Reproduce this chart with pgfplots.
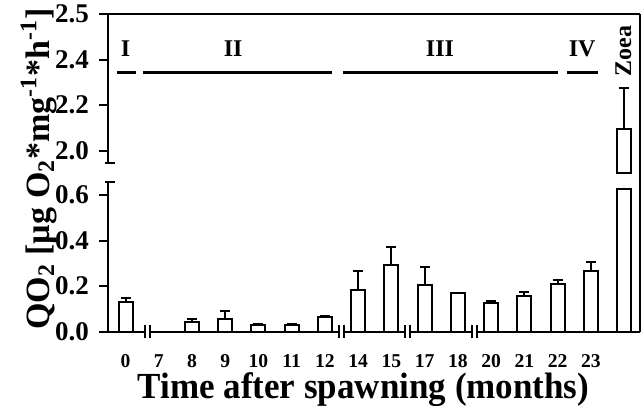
\documentclass[border=0pt]{standalone}
\usepackage{fontspec}
\setmainfont{Liberation Serif}
\usepackage{pgfplots}
\pgfplotsset{compat=1.18}

\pgfplotsset{
  common/.style={
    scale only axis, width=266pt, xmin=-0.527, xmax=15.48,
    clip mode=individual,
    tick align=outside, major tick length=4.5pt,
    every tick/.style={line width=1pt, black},
    axis line style={line width=1pt},
    ybar, bar width=7pt, bar shift=0pt,
    /pgf/number format/assume math mode=true,
    yticklabel style={font=\fontsize{13.5}{14}\selectfont\bfseries, xshift=-1.5pt},
  },
  qbar/.style={draw=black, fill=white, line width=1pt, bar shift=0pt,
    error bars/.cd, y dir=plus, y explicit,
    error bar style={line width=1pt, black},
    error mark options={rotate=90, mark size=2.5pt, line width=1pt, black}},
}

\begin{document}
\begin{tikzpicture}
% lower panel
\begin{axis}[common, at={(54pt,37.15pt)}, anchor=south west,
  height=74.96pt, ymin=0, ymax=0.659,
  axis y line*=left, axis x line*=bottom, x axis line style={draw=none},
  xtick={0,...,14}, xticklabels={0,7,8,9,10,11,12,14,15,17,18,20,21,22,23},
  x tick style={draw=none},
  xticklabel style={font=\fontsize{9.8}{10}\selectfont\bfseries, anchor=base, inner sep=0pt, yshift=-13.3pt},
  ytick={0,0.2,0.4,0.6},
  yticklabel style={/pgf/number format/.cd, fixed, fixed zerofill, precision=1}]
\addplot[qbar] coordinates {
  (0,0.132) +- (0,0.017)
  (2,0.044) +- (0,0.012)
  (3,0.056) +- (0,0.035)
  (4,0.028) +- (0,0.005)
  (5,0.030) +- (0,0.005)
  (6,0.066) +- (0,0.005)
  (7,0.185) +- (0,0.080)
  (8,0.293) +- (0,0.081)
  (9,0.207) +- (0,0.076)
  (10,0.168) +- (0,0.004)
  (11,0.124) +- (0,0.010)
  (12,0.155) +- (0,0.018)
  (13,0.211) +- (0,0.016)
  (14,0.265) +- (0,0.043)
};
\addplot[draw=black, fill=white, line width=1pt, bar shift=0pt] coordinates {(15,0.626)};
% broken x axis
\draw[line width=1pt] (axis cs:-0.527,0) -- (axis cs:0.575,0)
  (axis cs:0.725,0) -- (axis cs:6.425,0)
  (axis cs:6.575,0) -- (axis cs:8.395,0)
  (axis cs:8.545,0) -- (axis cs:10.425,0)
  (axis cs:10.575,0) -- (axis cs:15.48,0);
\draw[line width=1pt]
  (axis cs:0.575,-0.029) -- (axis cs:0.575,0.029)
  (axis cs:0.725,-0.029) -- (axis cs:0.725,0.029)
  (axis cs:6.425,-0.029) -- (axis cs:6.425,0.029)
  (axis cs:6.575,-0.029) -- (axis cs:6.575,0.029)
  (axis cs:8.395,-0.029) -- (axis cs:8.395,0.029)
  (axis cs:8.545,-0.029) -- (axis cs:8.545,0.029)
  (axis cs:10.425,-0.029) -- (axis cs:10.425,0.029)
  (axis cs:10.575,-0.029) -- (axis cs:10.575,0.029);
\draw[line width=1pt] (axis cs:-0.617,0.659) -- (axis cs:-0.317,0.659);
\end{axis}

% upper panel
\begin{axis}[common, at={(54pt,116.275pt)}, anchor=south west,
  height=79.625pt, ymin=1.90, ymax=2.6,
  axis y line*=left, axis x line*=top, y axis line style={draw=none},
  xtick=\empty,
  ytick={2.0,2.2,2.4,2.6}, yticklabels={2.0,2.2,2.4,2.5}]
\addplot[qbar] coordinates {(15,2.094) +- (0,0.182)};
\draw[line width=1pt] (axis cs:-0.527,1.946) -- (axis cs:-0.527,2.6);
\draw[line width=1pt] (axis cs:-0.617,1.946) -- (axis cs:-0.317,1.946);
% developmental stages
\draw[line width=1.5pt] (axis cs:-0.256,2.343) -- (axis cs:0.316,2.343)
  (axis cs:0.527,2.343) -- (axis cs:6.21,2.343)
  (axis cs:6.55,2.343) -- (axis cs:13.02,2.343)
  (axis cs:13.29,2.343) -- (axis cs:14.23,2.343);
\begin{scope}[every node/.style={font=\fontsize{12}{13}\selectfont\bfseries, anchor=base, inner sep=0pt}]
\node at (axis cs:0,2.412) {I};
\node at (axis cs:3.24,2.412) {II};
\node at (axis cs:9.46,2.412) {III};
\node at (axis cs:13.74,2.412) {IV};
\node[rotate=90] at (axis cs:15.21,2.438) {Zoea};
\end{scope}
\end{axis}

\draw[line width=1pt] (320pt,37.15pt) -- (320pt,195.9pt);
\node[rotate=90, anchor=base, inner sep=0pt, font=\fontsize{17}{18}\selectfont\bfseries]
  at (24.5pt,118.5pt) {QO\textsubscript{2} [µg O\textsubscript{2}*mg\textsuperscript{-1}*h\textsuperscript{-1}]};
\node[anchor=base, inner sep=0pt, font=\fontsize{17.5}{18}\selectfont\bfseries]
  at (181.75pt,3.75pt) {\scalebox{1}[1.05]{Time after spawning (months)}};
\pgfresetboundingbox
\path[use as bounding box] (0,0) rectangle (321pt,203pt);
\end{tikzpicture}
\end{document}
